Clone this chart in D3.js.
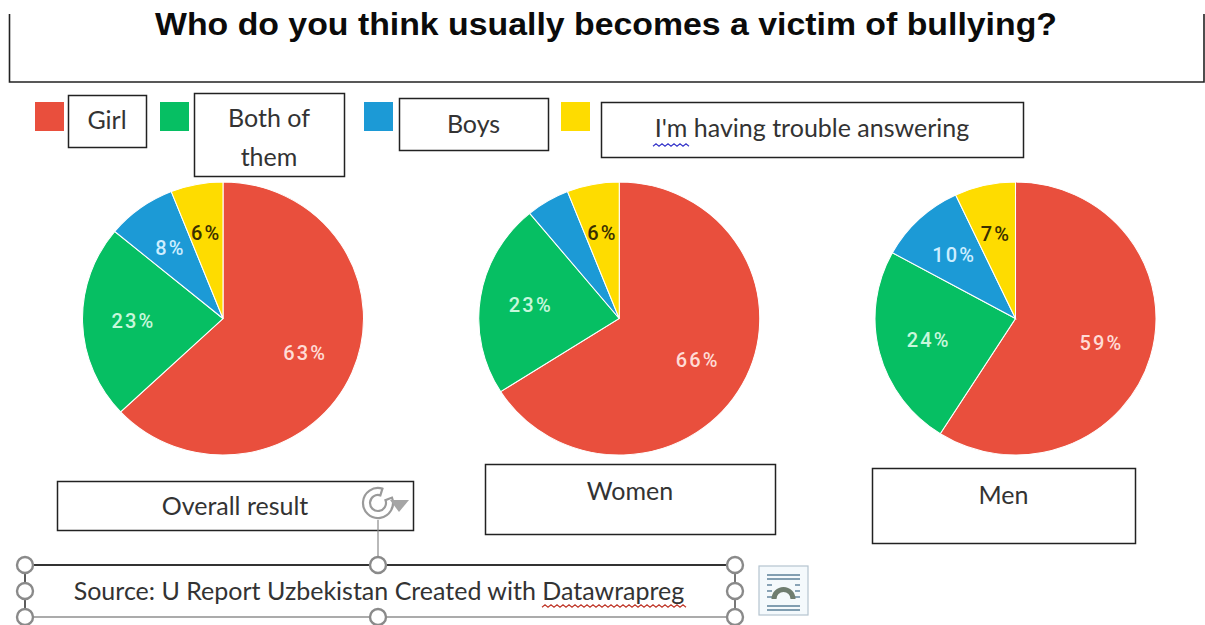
<!DOCTYPE html>
<html>
<head>
<meta charset="utf-8">
<script src="https://cdn.jsdelivr.net/npm/d3@7"></script>
<style>
  html, body { margin: 0; padding: 0; background: #fff; }
  svg { display: block; }
  .note { font-family: Lato, "Open Sans", sans-serif; font-size: 25px; fill: #333; text-anchor: middle; }
  .title { font-family: "Liberation Sans", Arial, sans-serif; font-weight: 700; font-size: 31px; fill: #0b0b0b; text-anchor: middle; }
  .pct { font-family: Roboto, sans-serif; font-size: 20px; font-weight: 500; letter-spacing: 2.2px; text-anchor: middle; dominant-baseline: central; }
</style>
</head>
<body>
<svg id="chart" width="1205" height="625"></svg>
<script>
// Survey answers, in percent, one list per respondent group
const categories = ["Girl", "Both of them", "Boys", "I'm having trouble answering"];
const groups = ["Overall result", "Women", "Men"];
const overallValues = [63, 23, 8, 6];
const womenValues = [66, 23, 5, 6];
const menValues = [59, 24, 10, 7];
const seriesByGroup = [overallValues, womenValues, menValues];
// The blue slice for women carries no printed label
const hiddenLabels = [[], [2], []];
const palette = ["#e94f3d", "#06bf63", "#1c9ad6", "#fedc00"];
const labelColors = ["#ffdcd6", "#c8f7dc", "#cdeeff", "#3a3000"];
const titleText = "Who do you think usually becomes a victim of bullying?";
const sourceText = "Source: U Report Uzbekistan Created with Datawrapreg";

const svg = d3.select("#chart");
const ink = "#222";

// Frame of the heading: open along its top edge
svg.append("path")
  .attr("d", "M9.5,14V82H1204V14")
  .attr("fill", "none").attr("stroke", ink).attr("stroke-width", 1.6);
svg.append("text").attr("class", "title").attr("x", 606).attr("y", 35)
  .attr("textLength", 902).attr("lengthAdjust", "spacingAndGlyphs").text(titleText);

// Outlined text box helper
function box(x0, y0, x1, y1, lines, lineY) {
  svg.append("rect")
    .attr("x", x0 + 0.5).attr("y", y0 + 0.5)
    .attr("width", x1 - x0).attr("height", y1 - y0)
    .attr("fill", "#fff").attr("stroke", ink).attr("stroke-width", 1.5);
  lines.forEach((line, i) => {
    svg.append("text").attr("class", "note")
      .attr("x", (x0 + x1) / 2).attr("y", lineY[i]).text(line);
  });
}

// Zigzag proofing mark drawn under a run of text
function squiggle(x0, x1, y, color) {
  const step = 3;
  const n = Math.round((x1 - x0) / step);
  const line = d3.line().x(d => x0 + d * step).y(d => y + (d % 2 ? -1.3 : 1.3));
  svg.append("path").attr("d", line(d3.range(n + 1)))
    .attr("fill", "none").attr("stroke", color).attr("stroke-width", 1.2);
}

// Legend
const legendSwatchX = [35, 160, 364, 561];
categories.forEach((c, i) => {
  svg.append("rect").attr("x", legendSwatchX[i]).attr("y", 102)
    .attr("width", 29).attr("height", 29).attr("fill", palette[i]);
});
box(68, 95, 146, 147, ["Girl"], [129]);
box(194, 93, 344, 176, ["Both of", "them"], [127, 166]);
box(399, 98, 548, 150, ["Boys"], [133]);
box(601, 102, 1023, 157, [categories[3]], [137]);
squiggle(653, 689, 145, "#3a3acb");

// One pie per respondent group, slightly wider than tall
const pieCenters = d3.scalePoint().domain(groups).range([223, 1015.5]);
const radiusY = 136.5;
const stretchX = 140.5 / 136.5;
const pie = d3.pie().sort(null).value(d => d);
const arc = d3.arc().innerRadius(0).outerRadius(radiusY);
const labelArc = d3.arc().innerRadius(87).outerRadius(87);

groups.forEach((g, gi) => {
  const cx = pieCenters(g);
  const cy = 318.5;
  const slices = pie(seriesByGroup[gi]);
  svg.append("g")
    .attr("transform", `translate(${cx},${cy}) scale(${stretchX},1)`)
    .selectAll("path").data(slices).join("path")
    .attr("d", arc)
    .attr("fill", (d, i) => palette[i])
    .attr("stroke", "#fff").attr("stroke-width", 1);
  svg.append("g")
    .attr("transform", `translate(${cx},${cy})`)
    .selectAll("text").data(slices.filter((d, i) => !hiddenLabels[gi].includes(i))).join("text")
    .attr("class", "pct")
    .attr("x", d => labelArc.centroid(d)[0] * stretchX)
    .attr("y", d => labelArc.centroid(d)[1])
    .attr("fill", d => labelColors[d.index])
    .text(d => d.value + "%");
});

// Captions below the pies
box(57, 481, 413, 530, [groups[0]], [515]);
box(485, 464, 775, 534, [groups[1]], [500]);
box(872, 468, 1135, 543, [groups[2]], [504]);

// Selected source text box with its editing handles
const handleGrey = "#8a8a8a";
svg.append("line").attr("x1", 378).attr("x2", 378).attr("y1", 520).attr("y2", 565)
  .attr("stroke", handleGrey).attr("stroke-width", 1.2);
svg.append("line").attr("x1", 25).attr("x2", 735).attr("y1", 565).attr("y2", 565)
  .attr("stroke", "#333").attr("stroke-width", 2);
svg.append("line").attr("x1", 25).attr("x2", 735).attr("y1", 617).attr("y2", 617)
  .attr("stroke", "#8f8f8f").attr("stroke-width", 1.4);
svg.append("line").attr("x1", 25).attr("x2", 25).attr("y1", 565).attr("y2", 617)
  .attr("stroke", "#333").attr("stroke-width", 1.6);
svg.append("line").attr("x1", 735).attr("x2", 735).attr("y1", 565).attr("y2", 617)
  .attr("stroke", "#555").attr("stroke-width", 1.6);
svg.append("text").attr("class", "note").attr("x", 379).attr("y", 600).text(sourceText);
squiggle(542, 685, 606, "#c0392b");

const handles = [[25,565],[25,591],[25,617],[378,565],[378,617],[735,565],[735,591],[735,617]];
svg.selectAll("circle.handle").data(handles).join("circle")
  .attr("class", "handle")
  .attr("cx", d => d[0]).attr("cy", d => d[1]).attr("r", 8)
  .attr("fill", "#fff").attr("stroke", handleGrey).attr("stroke-width", 2.4);

// Rotation handle
const rot = svg.append("g").attr("transform", "translate(378,503)");
rot.append("path").attr("d", d3.arc().innerRadius(8).outerRadius(15).startAngle(1.2).endAngle(2 * Math.PI + 0.3)())
  .attr("fill", "#fff").attr("stroke", "#9a9a9a").attr("stroke-width", 2.2);
rot.append("path").attr("d", "M12,-3H31L21,9Z").attr("fill", "#a5a5a5");

// Layout-options button beside the selection
const icon = svg.append("g").attr("transform", "translate(759,566)");
icon.append("rect").attr("x", 0).attr("y", 0).attr("width", 49).attr("height", 49)
  .attr("fill", "#f4f9fc").attr("stroke", "#b5c4cf").attr("stroke-width", 1.2);
[9, 13, 40, 44].forEach(y => icon.append("line").attr("x1", 8).attr("x2", 41).attr("y1", y).attr("y2", y)
  .attr("stroke", "#5b7f99").attr("stroke-width", 1.4));
[19, 25, 31].forEach(y => {
  icon.append("line").attr("x1", 8).attr("x2", 13).attr("y1", y).attr("y2", y).attr("stroke", "#5b7f99").attr("stroke-width", 1.4);
  icon.append("line").attr("x1", 36).attr("x2", 41).attr("y1", y).attr("y2", y).attr("stroke", "#5b7f99").attr("stroke-width", 1.4);
});
icon.append("path").attr("d", d3.arc().innerRadius(7).outerRadius(12).startAngle(-Math.PI / 2).endAngle(Math.PI / 2)())
  .attr("transform", "translate(24.5,33)").attr("fill", "#6f7d70");
</script>
</body>
</html>
